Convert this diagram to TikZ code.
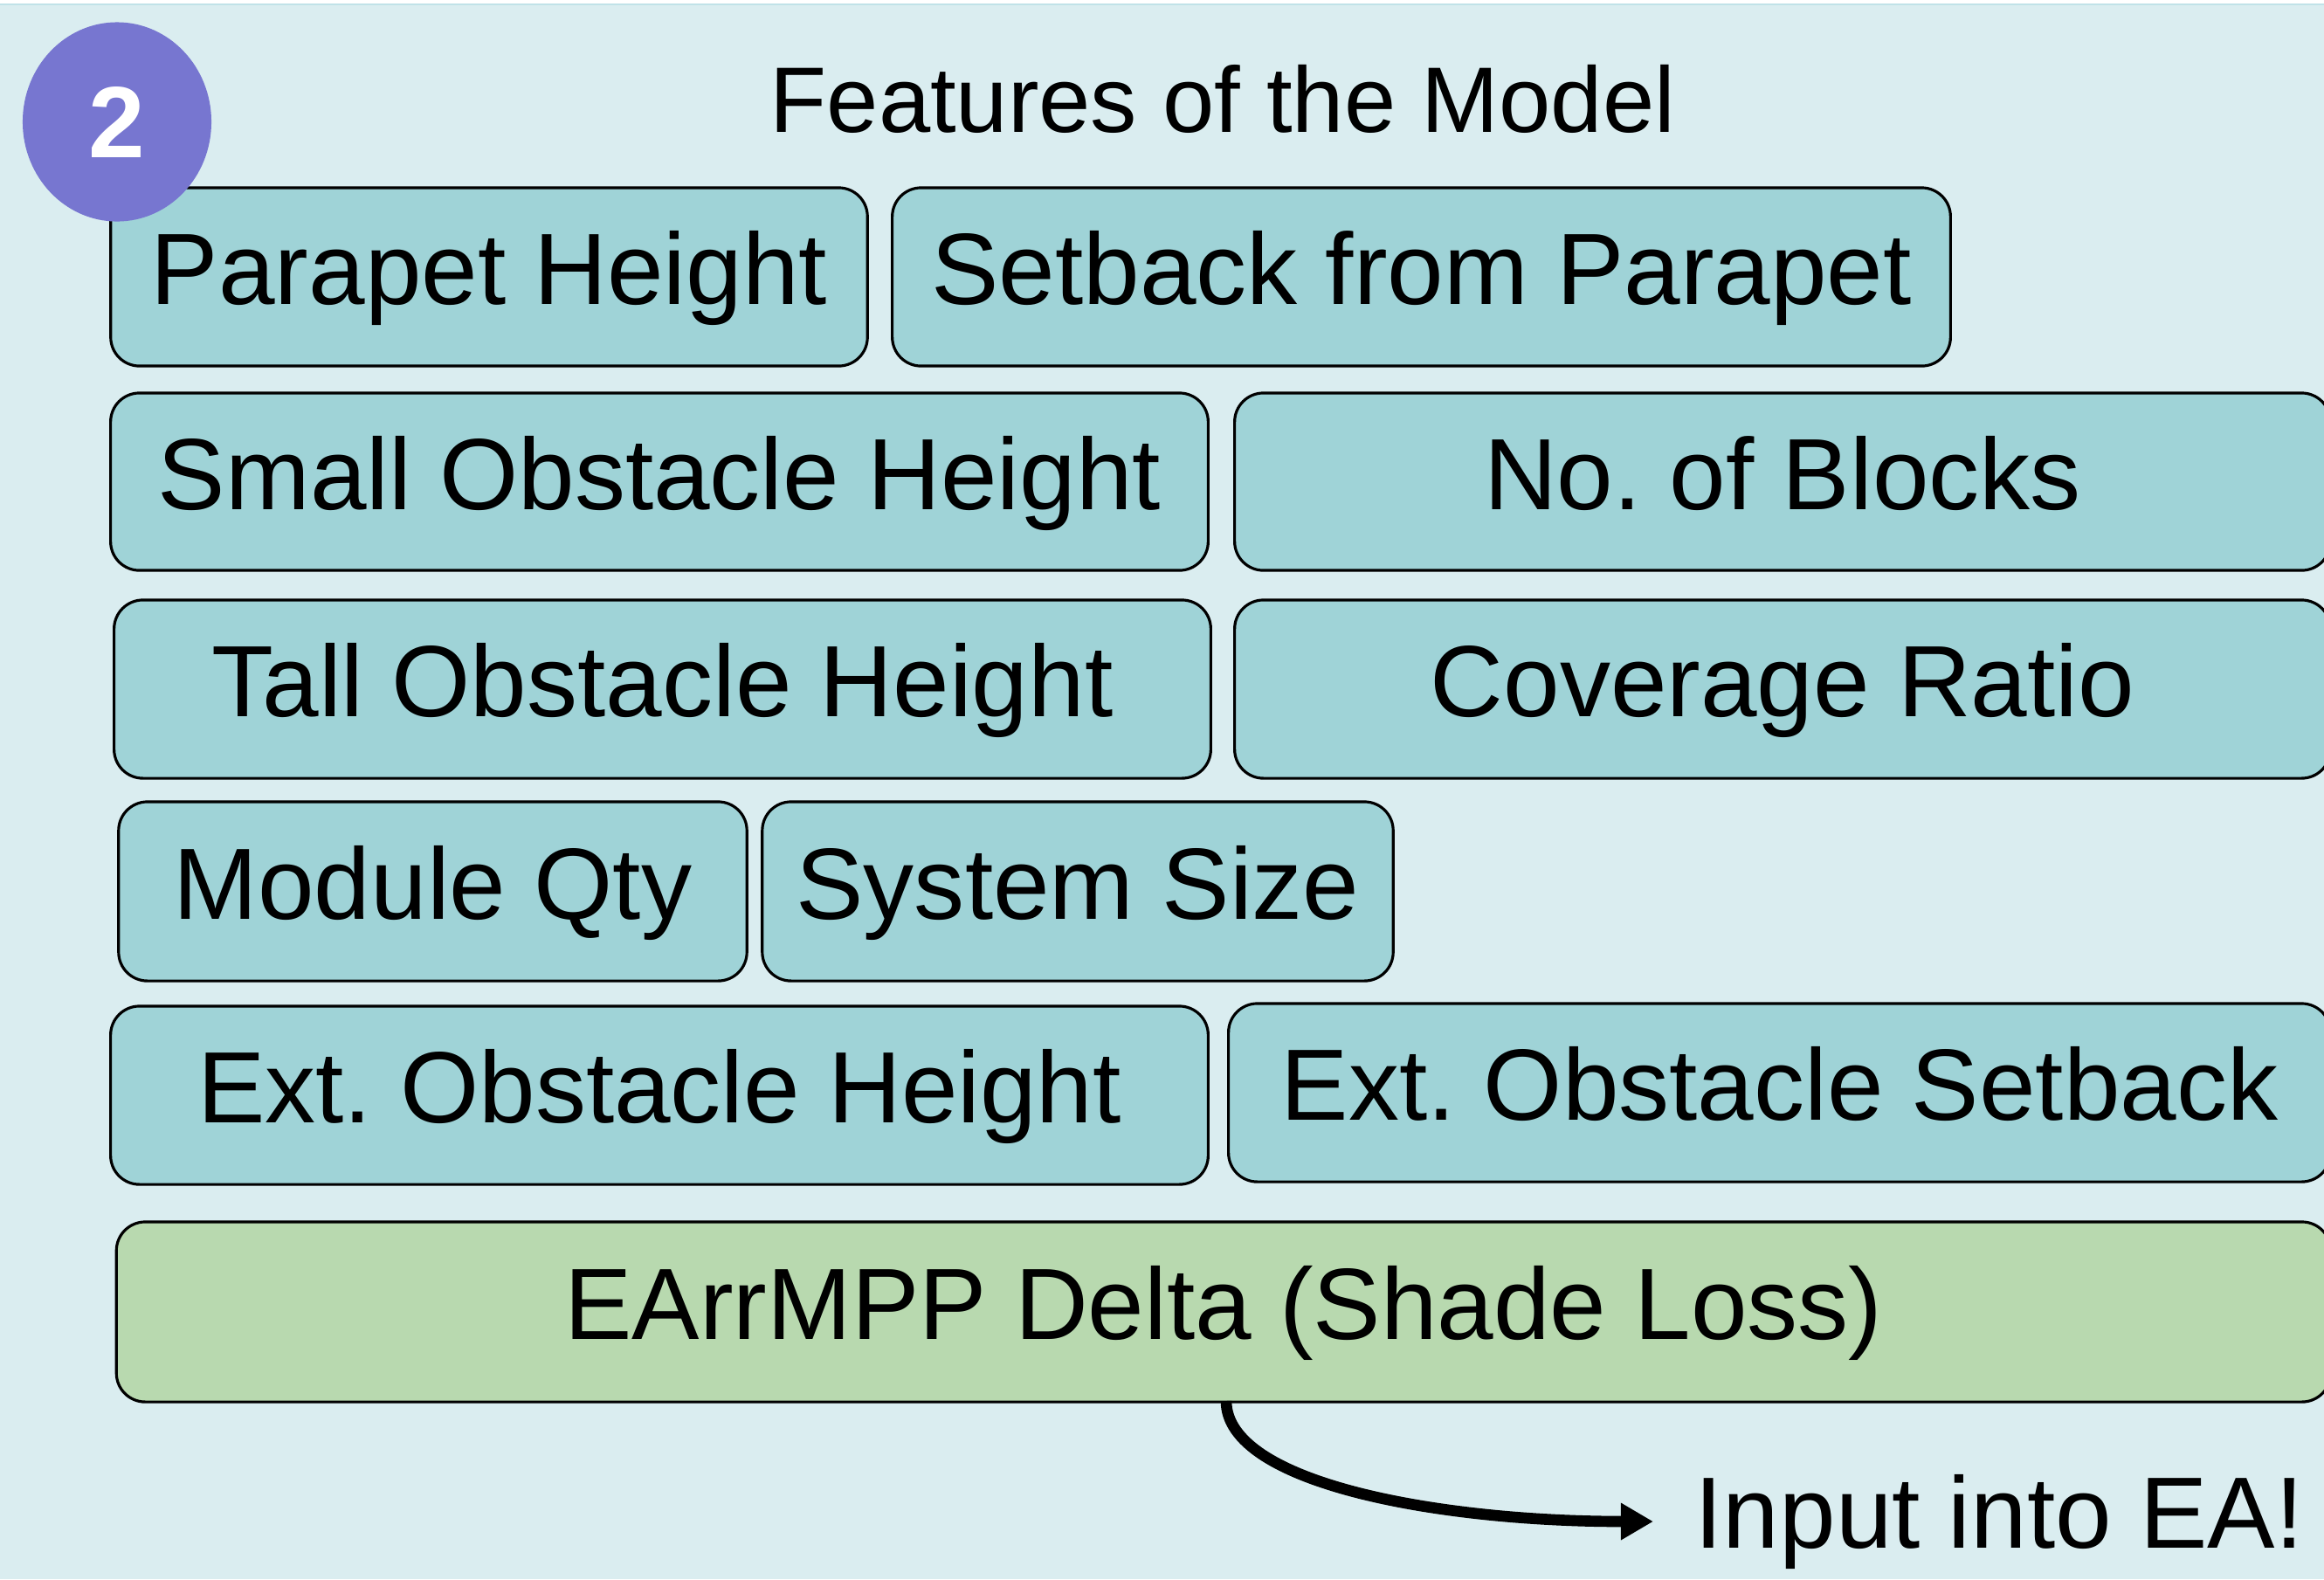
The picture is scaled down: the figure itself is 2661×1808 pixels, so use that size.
\documentclass[tikz,border=0pt]{standalone}
\usepackage{fontspec}
\setmainfont{Liberation Sans}
\usetikzlibrary{arrows.meta,shapes.geometric}
\definecolor{bgc}{RGB}{218,237,240}
\definecolor{topc}{RGB}{192,226,232}
\definecolor{boxc}{RGB}{159,211,215}
\definecolor{greenc}{RGB}{184,217,175}
\definecolor{badgec}{RGB}{119,118,208}
\tikzset{
  feat/.style={draw=black, line width=0.9pt, fill=boxc, rounded corners=0.33cm,
    inner sep=0pt, font=\fontsize{33}{40}\selectfont,
    text height=0.9cm, text depth=0.27cm, minimum height=2.04cm},
  lossbox/.style={feat, fill=greenc, minimum height=2.06cm},
  badge/.style={ellipse, fill=badgec, inner sep=0pt, minimum width=2.16cm, minimum height=2.28cm,
    text=white, font=\fontsize{33}{40}\selectfont\bfseries},
  titletext/.style={inner sep=0pt, font=\fontsize{30.3}{36}\selectfont},
  labeltext/.style={inner sep=0pt, font=\fontsize{33}{40}\selectfont},
  flow/.style={line width=3.6pt, -{Triangle[length=0.37cm,width=0.40cm]}},
}
\frenchspacing
\begin{document}
\begin{tikzpicture}[x=0.01cm,y=-0.01cm]
\useasboundingbox (0,0) rectangle (2661,1808);
\fill[white] (0,0) rectangle (2661,5);
\fill[bgc] (0,5) rectangle (2661,1808);
\draw[topc, line width=0.8pt] (0,5) -- (2661,5);

\node[titletext, anchor=base] (title) at (1400,151) {Features of the Model};

\node[feat, minimum width=8.66cm] (parapet) at (560,317) {Parapet Height};
\node[feat, minimum width=12.11cm] (setback) at (1627.5,317) {Setback from Parapet};

\node[feat, minimum width=12.56cm, minimum height=2.03cm] (small) at (755,551.5) {Small Obstacle Height};
\node[feat, minimum width=12.54cm, minimum height=2.03cm] (blocks) at (2041,551.5) {No. of Blocks};

\node[feat, minimum width=12.55cm] (tall) at (758.5,789) {Tall Obstacle Height};
\node[feat, minimum width=12.54cm] (coverage) at (2041,789) {Coverage Ratio};

\node[feat, minimum width=7.19cm, minimum height=2.05cm] (module) at (495.5,1020.5) {Module Qty};
\node[feat, minimum width=7.22cm, minimum height=2.05cm] (system) at (1234,1020.5) {System Size};

\node[feat, minimum width=12.56cm] (exth) at (755,1254) {Ext. Obstacle Height};
\node[feat, minimum width=12.61cm] (exts) at (2037.5,1251) {Ext. Obstacle Setback};

\node[lossbox, minimum width=25.34cm] (loss) at (1401,1502) {EArrMPP Delta (Shade Loss)};

\node[badge] (num) at (134,139.5) {2};

\node[labeltext, anchor=base west] (input) at (1940,1772) {Input into EA!};
\coordinate (astart) at (1404,1604);
\draw[flow] (astart) .. controls +(0,95) and +(-243,0) .. ([xshift=-0.47cm]input.west);
\end{tikzpicture}
\end{document}
